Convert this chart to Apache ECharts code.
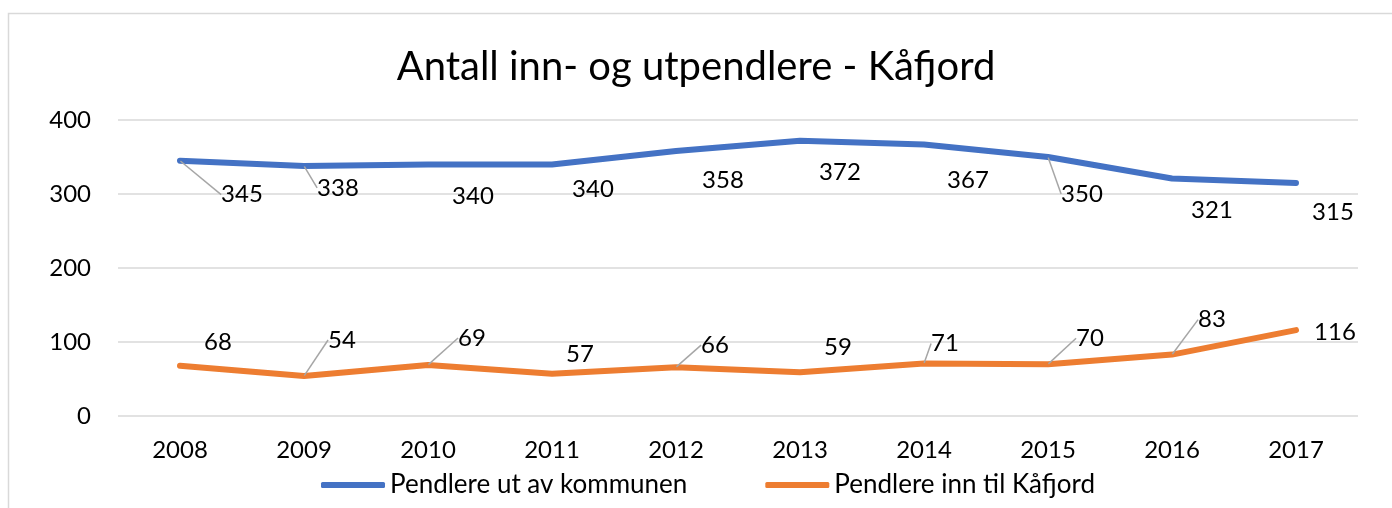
<!DOCTYPE html>
<html>
<head>
<meta charset="utf-8">
<title>Antall inn- og utpendlere - Kåfjord</title>
<script src="https://cdn.jsdelivr.net/npm/echarts@6/dist/echarts.min.js"></script>
<style>
  html, body { margin: 0; padding: 0; background: #fff; }
  #chart { width: 1392px; height: 508px; }
</style>
</head>
<body>
<div id="chart"></div>
<script>
// data
const years = ['2008', '2009', '2010', '2011', '2012', '2013', '2014', '2015', '2016', '2017'];
const utpendlere = [345, 338, 340, 340, 358, 372, 367, 350, 321, 315];
const innpendlere = [68, 54, 69, 57, 66, 59, 71, 70, 83, 116];
const seriesNames = ['Pendlere ut av kommunen', 'Pendlere inn til Kåfjord'];
const yTicks = [0, 100, 200, 300, 400];

// where Excel put the data labels (offset from the point) and which have leader lines
const utOffsets = [[62, 34], [34, 22], [45, 32], [41, 25], [47, 29], [40, 32], [44, 36], [34, 37], [40, 32], [37, 29]];
const innOffsets = [[38, -23], [38, -36], [44, -27], [28, -20], [39, -22], [38, -25], [21, -20], [42, -26], [40, -35], [39, 2]];
const utLeader = [1, 1, 0, 0, 0, 0, 0, 1, 0, 0];
const innLeader = [0, 1, 1, 0, 1, 0, 1, 1, 1, 0];

const font = 'Lato, "Open Sans", sans-serif';

function items(values, leader) {
  return values.map((v, i) => ({ value: v, labelLine: { show: !!leader[i] } }));
}

const chart = echarts.init(document.getElementById('chart'));
chart.setOption({
  animation: false,
  backgroundColor: '#fff',
  graphic: [{
    type: 'rect',
    shape: { x: 8.5, y: 13.5, width: 1400, height: 520 },
    style: { fill: 'none', stroke: '#D9D9D9', lineWidth: 1.5 },
    silent: true
  }],
  title: {
    text: 'Antall inn- og utpendlere - Kåfjord',
    left: 'center',
    top: 42,
    textStyle: { fontFamily: font, fontSize: 40, fontWeight: 'normal', color: '#000' }
  },
  legend: {
    bottom: 5,
    left: 316,
    icon: 'roundRect',
    itemWidth: 64,
    itemHeight: 6,
    itemGap: 78,
    textStyle: { fontFamily: font, fontSize: 26, color: '#000' },
    data: seriesNames
  },
  grid: { left: 118, right: 34, top: 120, bottom: 92 },
  xAxis: {
    type: 'category',
    data: years,
    boundaryGap: true,
    axisLine: { show: false },
    axisTick: { show: false },
    axisLabel: { fontFamily: font, fontSize: 24, color: '#000', margin: 22 }
  },
  yAxis: {
    type: 'value',
    min: yTicks[0],
    max: yTicks[yTicks.length - 1],
    interval: 100,
    axisLine: { show: false },
    axisTick: { show: false },
    splitLine: { lineStyle: { color: '#D9D9D9', width: 1.5 } },
    axisLabel: { fontFamily: font, fontSize: 24, color: '#000', margin: 27 }
  },
  series: [
    {
      name: seriesNames[0],
      type: 'line',
      data: items(utpendlere, utLeader),
      symbol: 'circle',
      symbolSize: 1,
      showSymbol: true,
      lineStyle: { color: '#4472C4', width: 6, cap: 'round', join: 'round' },
      itemStyle: { color: '#4472C4' },
      label: { show: true, position: 'inside', fontFamily: font, fontSize: 24, color: '#000' },
      labelLine: { lineStyle: { color: '#A6A6A6', width: 1.5 } },
      labelLayout: p => ({ dx: utOffsets[p.dataIndex][0], dy: utOffsets[p.dataIndex][1] })
    },
    {
      name: seriesNames[1],
      type: 'line',
      data: items(innpendlere, innLeader),
      symbol: 'circle',
      symbolSize: 1,
      showSymbol: true,
      lineStyle: { color: '#ED7D31', width: 6, cap: 'round', join: 'round' },
      itemStyle: { color: '#ED7D31' },
      label: { show: true, position: 'inside', fontFamily: font, fontSize: 24, color: '#000' },
      labelLine: { lineStyle: { color: '#A6A6A6', width: 1.5 } },
      labelLayout: p => ({ dx: innOffsets[p.dataIndex][0], dy: innOffsets[p.dataIndex][1] })
    }
  ]
});
</script>
</body>
</html>
